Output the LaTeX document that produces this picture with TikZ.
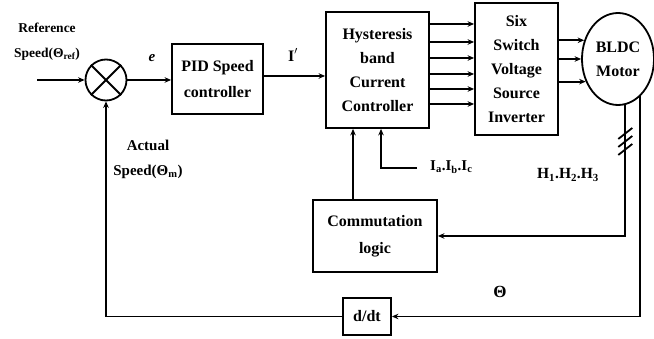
\documentclass[tikz,border=0pt]{standalone}
\usepackage{fontspec}
\setmainfont{Liberation Serif}
\usetikzlibrary{arrows.meta,calc,shapes.geometric}
\begin{document}
\begin{tikzpicture}[x=1pt,y=-1pt,
  blk/.style={draw, line width=1.8pt, align=center, inner sep=0pt,
    font=\bfseries\fontsize{16}{24}\selectfont},
  wire/.style={line width=1.8pt},
  arr/.style={line width=1.8pt, -{Stealth[length=6.5pt,width=5.5pt]}},
  lbl/.style={align=center, inner sep=0pt, font=\bfseries\fontsize{15}{25}\selectfont},
  slbl/.style={align=center, inner sep=0pt, font=\bfseries\fontsize{13.5}{25}\selectfont}]
\useasboundingbox (0,0) rectangle (654,339);
\fill[white] (0,0) rectangle (654,339);

% blocks
\node[blk, circle, minimum size=41pt] (sum) at (106,80) {};
\draw[wire] (sum.north west) -- (sum.south east) (sum.north east) -- (sum.south west);
\node[blk, minimum width=91pt, minimum height=70pt, font=\bfseries\fontsize{16}{26}\selectfont] (pid) at (217.5,79) {PID Speed\\controller};
\node[blk, minimum width=103pt, minimum height=116pt] (hcc) at (377.5,70) {Hysteresis\\band\\Current\\Controller};
\node[blk, minimum width=83pt, minimum height=132pt] (vsi) at (516.5,69) {Six\\Switch\\Voltage\\Source\\Inverter};
\node[blk, ellipse, minimum width=72pt, minimum height=92pt] (motor) at (618,59) {BLDC\\Motor};
\node[blk, minimum width=124pt, minimum height=72pt, font=\bfseries\fontsize{16}{27}\selectfont] (comm) at (375,236) {Commutation\\logic};
\node[blk, minimum width=48pt, minimum height=37pt] (ddt) at (367,316.5) {d/dt};

% input
\coordinate (in) at (37,80);
\draw[arr] (in) -- (sum.west);
\node[slbl] (reflbl) at (47,42) {Reference\\Speed(Θ\textsubscript{ref})};

% forward path
\draw[arr] (sum.east) -- (pid.west |- sum.east);
\node[lbl, font=\bfseries\itshape\fontsize{15}{20}\selectfont] (elbl) at (152,58) {e};
\draw[arr] (pid.east) ++(0,-3) coordinate (pidout) -- (pidout -| hcc.west);
\node[lbl, font=\bfseries\fontsize{16}{20}\selectfont] (ilbl) at (293,55) {I$'$};

% six gate signals
\foreach \yy in {24,42,58,74,89,104}
  \draw[arr] (hcc.east |- 0,\yy) -- (vsi.west |- 0,\yy);

% three phases
\foreach \aa in {151,180,215}
  \draw[arr] (vsi.east |- motor.\aa) -- (motor.\aa);

% hall sensor feedback
\coordinate (m1) at (motor.279);
\coordinate (m2) at (motor.301);
\draw[arr] (m1) |- (comm.east);
\foreach \dy in {28,36,44}
  \draw[wire] ([shift={(-7,\dy+6)}]m1) -- ([shift={(7,\dy-5)}]m1);
\node[lbl, font=\bfseries\fontsize{15.5}{20}\selectfont] (hlbl) at (568,175) {H\textsubscript{1}.H\textsubscript{2}.H\textsubscript{3}};

% position feedback
\draw[arr] (m2) |- (ddt.east);
\node[lbl, font=\bfseries\fontsize{17}{20}\selectfont] (thlbl) at (500,292) {Θ};
\draw[arr] (ddt.west) -| (sum.south);
\node[lbl] (actlbl) at (148,159.5) {Actual\\Speed(Θ\textsubscript{m})};

% commutation to current controller
\draw[arr] ([xshift=-22pt]comm.north) -- ([xshift=-22pt]comm.north |- hcc.south);

% current feedback
\coordinate (iabc) at (417,168);
\draw[arr] (iabc) -| ([xshift=3.5pt]hcc.south);
\node[lbl, anchor=west] (ilab) at (430,167) {I\textsubscript{a}.I\textsubscript{b}.I\textsubscript{c}};
\end{tikzpicture}
\end{document}
